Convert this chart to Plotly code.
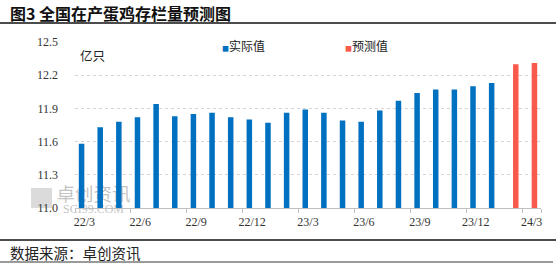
import plotly.graph_objects as go

months = ["22/3", "22/4", "22/5", "22/6", "22/7", "22/8", "22/9", "22/10", "22/11", "22/12",
          "23/1", "23/2", "23/3", "23/4", "23/5", "23/6", "23/7", "23/8", "23/9", "23/10",
          "23/11", "23/12", "24/1", "24/2", "24/3"]
actual = [11.58, 11.73, 11.78, 11.82, 11.94, 11.83, 11.85, 11.86, 11.82, 11.80,
          11.77, 11.86, 11.89, 11.86, 11.79, 11.78, 11.88, 11.97, 12.04, 12.07,
          12.07, 12.10, 12.13]
forecast = [12.30, 12.31]
xtick_labels = ["22/3", "22/6", "22/9", "22/12", "23/3", "23/6", "23/9", "23/12", "24/3"]
yticks = [11.0, 11.3, 11.6, 11.9, 12.2, 12.5]

BLUE = "#0070C0"
RED = "#F95A4B"

W, H = 556, 266
L, R, T, B = 75, 15, 42, 58
PW, PH = W - L - R, H - T - B


def px(x):
    return (x - L) / PW


def py(y):
    return (H - B - y) / PH


n_act = len(actual)
act_y = actual + [None] * (len(months) - n_act)
fc_y = [None] * n_act + forecast

fig = go.Figure()
fig.add_trace(go.Bar(x=months, y=act_y, name="实际值", marker=dict(color=BLUE, line=dict(width=0)),
                     showlegend=False))
fig.add_trace(go.Bar(x=months, y=fc_y, name="预测值", marker=dict(color=RED, line=dict(width=0)),
                     showlegend=False))

num_font = dict(family="Liberation Serif, DejaVu Serif, serif", size=12, color="#333333")
cjk = "Noto Sans CJK SC, sans-serif"

fig.update_layout(
    width=W, height=H,
    margin=dict(l=L, r=R, t=T, b=B, pad=0, autoexpand=False),
    paper_bgcolor="white", plot_bgcolor="white",
    barmode="group", bargap=0.41, bargroupgap=0,
    showlegend=False,
    xaxis=dict(type="category", categoryorder="array", categoryarray=months,
               tickmode="array", tickvals=xtick_labels, ticktext=xtick_labels,
               tickson="boundaries", ticks="outside", ticklen=4, tickcolor="#bfbfbf",
               showline=True, linecolor="#bfbfbf", linewidth=1, tickangle=0, automargin=False,
               showgrid=False, tickfont=num_font, ticklabelstandoff=3,
               range=[-0.5, len(months) - 0.5]),
    yaxis=dict(range=[11.0, 12.5], tickmode="array", tickvals=yticks,
               ticktext=[f"{v:.1f}" for v in yticks], automargin=False,
               showgrid=True, gridcolor="#d4d4d4", griddash="dot", gridwidth=1,
               zeroline=False, showline=False, ticks="", tickfont=num_font,
               ticklabelstandoff=16),
)

annotations = [
    dict(text="<b>图3 全国在产蛋鸡存栏量预测图</b>", x=px(8), y=py(12.5), xanchor="left", yanchor="middle",
         font=dict(family=cjk, size=16, color="#111111")),
    dict(text="亿只", x=px(78), y=py(55), xanchor="left", yanchor="middle",
         font=dict(family=cjk, size=12.5, color="#222222")),
    dict(text=f"<span style='color:{BLUE};font-size:7px'>■</span>实际值", x=px(220), y=py(46), xanchor="left",
         yanchor="middle", font=dict(family=cjk, size=12, color="#222222")),
    dict(text=f"<span style='color:{RED};font-size:7px'>■</span>预测值", x=px(343), y=py(46), xanchor="left",
         yanchor="middle", font=dict(family=cjk, size=12, color="#222222")),
    dict(text="数据来源：卓创资讯", x=px(8), y=py(252), xanchor="left", yanchor="middle",
         font=dict(family=cjk, size=14.5, color="#222222")),
]
for a in annotations:
    a.update(xref="paper", yref="paper", showarrow=False)
fig.update_layout(annotations=annotations)

shapes = [
    dict(type="line", x0=px(0), x1=px(W), y0=py(23), y1=py(23), line=dict(color="#111111", width=1.5)),
    dict(type="line", x0=px(0), x1=px(W), y0=py(240), y1=py(240), line=dict(color="#111111", width=1.5)),
    dict(type="line", x0=px(0), x1=px(553), y0=py(262), y1=py(262), line=dict(color="#9a9a9a", width=2)),
    # watermark (drawn beneath bars)
    dict(type="rect", x0=px(31), x1=px(52), y0=py(208), y1=py(188), layer="below",
         fillcolor="rgba(195,195,195,0.6)", line=dict(width=0)),
    dict(type="rect", x0=px(55), x1=px(132), y0=py(204), y1=py(186), layer="below",
         fillcolor="rgba(0,0,0,0)", line=dict(width=0),
         label=dict(text="卓创资讯", font=dict(family=cjk, size=18.5, color="rgba(185,185,185,0.85)"))),
    dict(type="rect", x0=px(55), x1=px(132), y0=py(213), y1=py(203), layer="below",
         fillcolor="rgba(0,0,0,0)", line=dict(width=0),
         label=dict(text="SCI99.COM", font=dict(family="Liberation Serif, serif", size=12,
                                                  color="rgba(185,185,185,0.85)"))),
]
for s in shapes:
    s.update(xref="paper", yref="paper")
fig.update_layout(shapes=shapes)

fig.write_html("out.html", config={"displayModeBar": False, "staticPlot": True},
               post_script="document.body.style.margin='0';document.body.style.padding='0';"
                           "document.body.style.overflow='hidden';")
